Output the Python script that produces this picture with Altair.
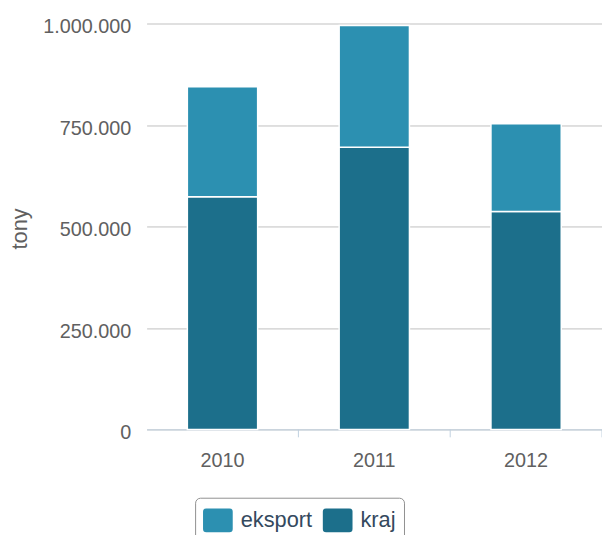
import altair as alt
import pandas as pd

years = ["2010", "2011", "2012"]
kraj = [573000, 695000, 537000]
eksport = [271000, 300000, 216000]
series = ["eksport", "kraj"]
colors = ["#2c90b1", "#1c6f8b"]
y_ticks = [0, 250000, 500000, 750000, 1000000]

rows = []
for i, yr in enumerate(years):
    rows.append({"year": yr, "series": "kraj", "value": kraj[i], "ord": 0})
    rows.append({"year": yr, "series": "eksport", "value": eksport[i], "ord": 1})
df = pd.DataFrame(rows)

FONT = "Liberation Sans"
LABEL = "#606060"

x_axis = alt.Axis(
    title=None, ticks=False, tickSize=0, domain=True, domainColor="#C0D0E0",
    domainWidth=1, labelFontSize=20, labelColor=LABEL, labelFont=FONT,
    labelPadding=37, labelBaseline="alphabetic", labelAngle=0, grid=False,
)
x_scale = alt.Scale(paddingInner=0, paddingOuter=0)

bars = alt.Chart(df).mark_bar(size=71, stroke="white", strokeWidth=1.5).encode(
    x=alt.X("year:N", scale=x_scale, axis=x_axis, sort=years),
    y=alt.Y(
        "value:Q", stack="zero",
        scale=alt.Scale(domain=[0, 1000000], nice=False),
        axis=alt.Axis(
            title="tony", values=y_ticks, ticks=False, domain=False,
            grid=True, gridColor="#C0C0C0", gridWidth=1,
            labelFontSize=20, labelColor=LABEL, labelFont=FONT,
            labelPadding=16, labelOffset=3.5,
            labelExpr="join(split(format(datum.value, ','), ','), '.')",
            titleFontSize=22, titleFontWeight="normal", titleColor=LABEL,
            titleFont=FONT, titleX=-128.5, titleY=207, titleAngle=270,
            titleAlign="center", titleBaseline="middle",
        ),
    ),
    color=alt.Color(
        "series:N",
        scale=alt.Scale(domain=series, range=colors),
        legend=alt.Legend(
            title=None, orient="none", legendX=49, legendY=479,
            direction="horizontal",
            symbolType="M-0.78,-0.8 L0.78,-0.8 Q1,-0.8 1,-0.58 L1,0.58 Q1,0.8 0.78,0.8 L-0.78,0.8 Q-1,0.8 -1,0.58 L-1,-0.58 Q-1,-0.8 -0.78,-0.8 Z",
            symbolSize=900, symbolStrokeWidth=0, symbolOpacity=1,
            labelFontSize=22, labelColor="#34495e", labelFont=FONT,
            labelOffset=8, columnPadding=10, padding=8,
            strokeColor="#909090", cornerRadius=5, fillColor="white",
        ),
    ),
    order=alt.Order("ord:Q", sort="ascending"),
)

ticks = alt.Chart(pd.DataFrame({"year": years})).mark_rule(
    color="#C0D0E0", strokeWidth=1
).encode(
    x=alt.X("year:N", scale=x_scale, axis=x_axis, sort=years, bandPosition=1),
    y=alt.value(410),
    y2=alt.value(418),
)

chart = alt.layer(bars, ticks).properties(
    width=460, height=410,
    autosize=alt.AutoSizeParams(type="none"),
    padding={"left": 140, "top": 13, "right": 0, "bottom": 104},
).configure_view(stroke=None)

chart.save("out.html", embed_options={"renderer": "svg", "actions": False})
